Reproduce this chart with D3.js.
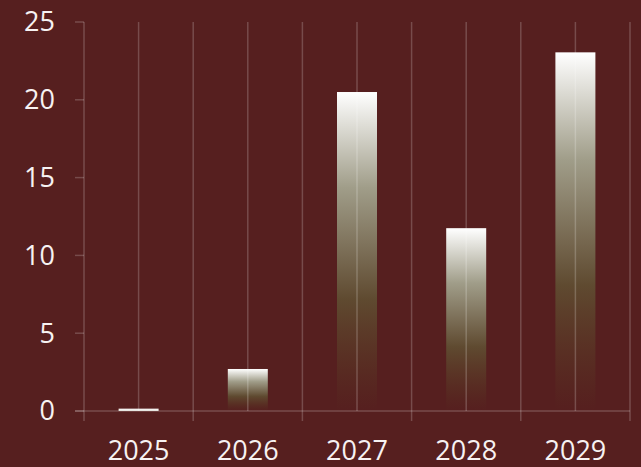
<!DOCTYPE html>
<html><head><meta charset="utf-8">
<script src="https://cdn.jsdelivr.net/npm/d3@7"></script>
<style>html,body{margin:0;padding:0;background:#561f1f;}svg{display:block;}</style>
</head><body>
<script>
const categories = ["2025","2026","2027","2028","2029"];
const values = [0.15, 2.7, 20.5, 11.75, 23.05];
const yTicks = [0,5,10,15,20,25];

(function(){
const W = 641, H = 467;
const mLeft = 84, mRight = 630, mTop = 22, mBottom = 411;
const bg = "#561f1f", gridColor = "rgba(255,255,255,0.2)", textColor = "#f7f2f2";
const font = "'Open Sans', sans-serif", fontSize = 27;

const svg = d3.select("body").append("svg").attr("width", W).attr("height", H);
svg.append("rect").attr("width", W).attr("height", H).attr("fill", bg);

const x = d3.scaleBand().domain(categories).range([mLeft,mRight]).padding(0);
const y = d3.scaleLinear().domain([0,25]).range([mBottom,mTop]);
const barW = 40;

const defs = svg.append("defs");
const stops = [[0,"#ffffff",1],[0.3,"#a09d89",1],[0.65,"#5f4a30",1],[1,"#5a3a22",0]];
categories.forEach((c,i) => {
  const yt = y(values[i]);
  const span = Math.max(y(0) - yt, 20);
  const gr = defs.append("linearGradient").attr("id","barGrad"+i)
    .attr("gradientUnits","userSpaceOnUse")
    .attr("x1",0).attr("y1",yt).attr("x2",0).attr("y2",yt + span);
  stops.forEach(s => gr.append("stop").attr("offset",s[0]).attr("stop-color",s[1]).attr("stop-opacity",s[2]));
});

svg.append("g").selectAll("rect").data(categories).join("rect")
  .attr("x", d => x(d) + x.bandwidth()/2 - barW/2)
  .attr("width", barW)
  .attr("y", (d,i) => y(values[i]))
  .attr("height", (d,i) => y(0) - y(values[i]))
  .attr("fill", (d,i) => "url(#barGrad"+i+")");

const g = svg.append("g").attr("stroke", gridColor).attr("stroke-width", 1.5).attr("fill","none");
const bounds = categories.map(c => x(c)).concat([mRight]);
g.selectAll(".b").data(bounds).join("line").attr("class","b")
  .attr("x1", d=>d).attr("x2", d=>d).attr("y1", mTop).attr("y2", mBottom + 10);
g.selectAll(".c").data(categories).join("line").attr("class","c")
  .attr("x1", d=>x(d)+x.bandwidth()/2).attr("x2", d=>x(d)+x.bandwidth()/2)
  .attr("y1", mTop).attr("y2", mBottom);
g.append("line").attr("x1", mLeft - 9).attr("x2", mRight).attr("y1", y(0)).attr("y2", y(0));
g.selectAll(".t").data(yTicks).join("line").attr("class","t")
  .attr("x1", mLeft - 9).attr("x2", mLeft).attr("y1", d=>y(d)).attr("y2", d=>y(d));

svg.append("g").selectAll("text").data(yTicks).join("text")
  .attr("x", 55).attr("y", d=>y(d)).attr("dy","0.35em")
  .attr("text-anchor","end").attr("fill", textColor)
  .style("font-family", font).style("font-size", fontSize+"px")
  .text(d=>d);
svg.append("g").selectAll("text").data(categories).join("text")
  .attr("x", d=>x(d)+x.bandwidth()/2).attr("y", 460)
  .attr("text-anchor","middle").attr("fill", textColor)
  .style("font-family", font).style("font-size", fontSize+"px")
  .text(d=>d);
})();
</script>
</body></html>
